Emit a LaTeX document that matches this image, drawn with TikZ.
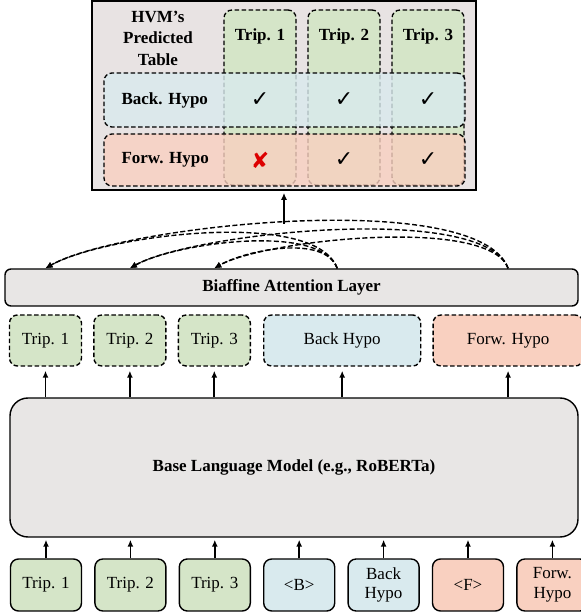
\documentclass[tikz,border=0pt]{standalone}
\usepackage{fontspec}
\setmainfont{Liberation Serif}
\newfontfamily\symfont{DejaVu Sans}
\usepackage{tikz}
\usetikzlibrary{calc,positioning,arrows.meta}
\definecolor{tripgreen}{HTML}{D5E5C8}
\definecolor{backblue}{HTML}{D9EAEE}
\definecolor{forwred}{HTML}{F9D0C0}
\definecolor{boxgrey}{HTML}{E8E6E5}
\definecolor{tablegrey}{HTML}{E8E3E3}
\definecolor{crossred}{HTML}{DD0000}
\tikzset{
    txt/.style={font=\fontsize{17}{19.5}\selectfont},
    btxt/.style={font=\fontsize{17}{21.5}\selectfont\bfseries},
    tok/.style={
    rectangle,draw=black,line width=1.4pt,rounded corners=8pt,txt,align=center,inner sep=0pt,
    minimum width=71pt,minimum height=52pt
    },
    dtok/.style={
    tok,dash pattern=on 4.5pt off 2.5pt,minimum height=51pt
    },
    layer/.style={
    rectangle,draw=black,line width=1.4pt,fill=boxgrey,btxt,inner sep=0pt
    },
    col/.style={rectangle,draw=black,line width=1.3pt,dash pattern=on 4.5pt off 2.5pt,rounded corners=8pt,
    fill=tripgreen,minimum width=72pt,minimum height=175pt},
    row/.style={rectangle,draw=black,line width=1.3pt,dash pattern=on 4.5pt off 2.5pt,rounded corners=8pt,
    fill opacity=0.8,minimum width=361pt},
    tick/.style={font=\symfont\fontsize{22}{22}\selectfont,inner sep=0pt},
  line/.style={draw, line width=1.7pt, -{Latex[length=7pt,width=6pt]}, shorten >=2pt},
  attn/.style={draw, line width=1.4pt, dash pattern=on 5pt off 2.5pt, -{Latex[length=7pt,width=6.5pt]}}
}

\begin{document}
\begin{tikzpicture}[x=1pt,y=1pt]
    \useasboundingbox (0,0) rectangle (581,614);

    % predicted table
    \node[rectangle,draw=black,line width=1.6pt,fill=tablegrey,minimum width=384pt,minimum height=189pt] (table) at (284,518.5) {};
    \node[col] (c1) at (260,516.5) {};
    \node[col] (c2) at (344,516.5) {};
    \node[col] (c3) at (428,516.5) {};
    \node[row,fill=backblue,minimum height=54pt] (rb) at (284.5,514) {};
    \node[row,fill=forwred,minimum height=52pt] (rf) at (284.5,454) {};

    \node[btxt,align=center,inner sep=0pt] (hvm) at (158,576) {HVM's\\Predicted\\Table};
    \node[btxt,inner sep=0pt,below=19pt of c1.north] (h1) {Trip. 1};
    \node[btxt,inner sep=0pt,below=19pt of c2.north] (h2) {Trip. 2};
    \node[btxt,inner sep=0pt,below=19pt of c3.north] (h3) {Trip. 3};
    \node[btxt,inner sep=0pt,right=18pt of rb.west] (lb) {Back. Hypo};
    \node[btxt,inner sep=0pt,right=18pt of rf.west] (lf) {Forw. Hypo};

    \node[tick] (b1) at (c1 |- rb) {✓};
    \node[tick] (b2) at (c2 |- rb) {✓};
    \node[tick] (b3) at (c3 |- rb) {✓};
    \node[tick,text=crossred] (f1) at (c1 |- rf) {✘};
    \node[tick] (f2) at (c2 |- rf) {✓};
    \node[tick] (f3) at (c3 |- rf) {✓};

    % biaffine layer and encoder outputs
    \node[layer,rounded corners=6pt,minimum width=573pt,minimum height=37pt] (biaf) at (291.5,326.5) {Biaffine Attention Layer};

    \node[dtok,fill=tripgreen,minimum width=72pt] (m1) at (45.5,273.5) {Trip. 1};
    \node[dtok,fill=tripgreen,minimum width=72pt,right=11pt of m1] (m2) {Trip. 2};
    \node[dtok,fill=tripgreen,minimum width=72pt,right=11pt of m2] (m3) {Trip. 3};
    \node[dtok,fill=backblue,minimum width=157pt,right=12pt of m3] (m4) {Back Hypo};
    \node[dtok,fill=forwred,minimum width=150pt,right=11pt of m4] (m5) {Forw. Hypo};

    % encoder
    \node[layer,rounded corners=18pt,minimum width=568pt,minimum height=139pt] (lm) at (294,146.5) {Base Language Model (e.g., RoBERTa)};

    % input tokens
    \node[tok,fill=tripgreen] (t1) at (46,29) {Trip. 1};
    \node[tok,fill=tripgreen,right=12pt of t1] (t2) {Trip. 2};
    \node[tok,fill=tripgreen,right=12pt of t2] (t3) {Trip. 3};
    \node[tok,fill=backblue,right=12pt of t3] (tb) {<B>};
    \node[tok,fill=backblue,right=12pt of tb] (tbh) {Back\\Hypo};
    \node[tok,fill=forwred,right=12pt of tbh] (tf) {<F>};
    \node[tok,fill=forwred,right=12pt of tf] (tfh) {Forw.\\Hypo};

    \coordinate (a1) at (biaf.north -| m1);
    \coordinate (a2) at (biaf.north -| m2);
    \coordinate (a3) at (biaf.north -| m3);
    \coordinate (a4) at ($(biaf.north -| m4)+(-5,0)$);
    \coordinate (a5) at (biaf.north -| m5);
    \coordinate (top) at (table.south |- 0,390);

    \begin{scope} [every path/.style=line]
      \path (t1) -- (lm.south -| t1);
      \path (t2) -- (lm.south -| t2);
      \path (t3) -- (lm.south -| t3);
      \path (tb) -- (lm.south -| tb);
      \path (tbh) -- (lm.south -| tbh);
      \path (tf) -- (lm.south -| tf);
      \path (tfh) -- (lm.south -| tfh);

      \path[shorten >=4pt] (lm.north -| m1) -- (m1);
      \path[shorten >=4pt] (lm.north -| m2) -- (m2);
      \path[shorten >=4pt] (lm.north -| m3) -- (m3);
      \path[shorten >=4pt] (lm.north -| m4) -- (m4);
      \path[shorten >=4pt] (lm.north -| m5) -- (m5);

      \path (top) -- (table.south);
    \end{scope}

    \begin{scope} [every path/.style=attn]
      \path (a4) to[out=110,in=30,looseness=0.57] (a1);
      \path (a4) to[out=110,in=30,looseness=0.61] (a2);
      \path (a4) to[out=110,in=30,looseness=0.76] (a3);
      \path (a5) to[out=110,in=30,looseness=0.48] (a1);
      \path (a5) to[out=110,in=30,looseness=0.48] (a2);
      \path (a5) to[out=110,in=30,looseness=0.49] (a3);
    \end{scope}
  \end{tikzpicture}
\end{document}
